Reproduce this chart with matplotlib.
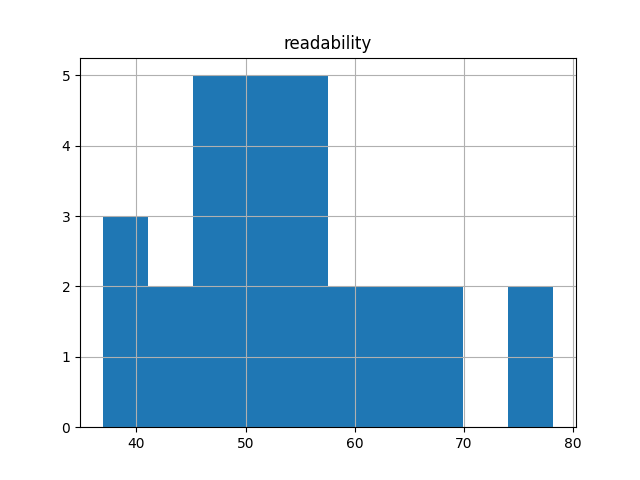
import matplotlib
matplotlib.use("Agg")
import matplotlib.pyplot as plt
import pandas as pd

# readability scores (estimated from the histogram)
readability = [36.9, 38.5, 40.2,
               42.3, 44.0,
               46.1, 47.5, 48.0, 48.8, 49.0,
               50.2, 51.0, 52.1, 52.8, 53.0,
               54.0, 55.1, 55.9, 56.4, 57.0,
               58.3, 60.1,
               62.4, 64.7,
               66.5, 68.9,
               75.3, 78.2]

df = pd.DataFrame({"readability": readability})

fig, ax = plt.subplots(figsize=(6.4, 4.8), dpi=100)
df.hist(column="readability", bins=10, ax=ax)

fig.savefig("out.png")
